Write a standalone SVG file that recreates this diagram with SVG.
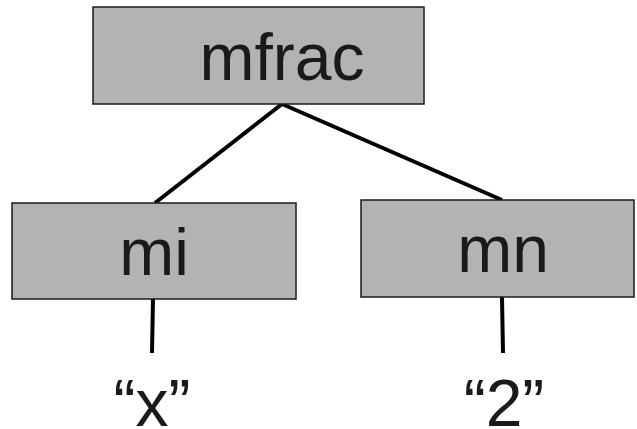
<svg xmlns="http://www.w3.org/2000/svg" width="637" height="429" viewBox="0 0 637 429">
  <style>
    .box { fill: #b3b3b3; stroke: #1a1a1a; stroke-width: 1.5; }
    .lbl { font-family: "Liberation Sans", Arial, sans-serif; font-size: 66px; fill: #1a1a1a; text-anchor: middle; }
    .edge { stroke: #000; stroke-width: 4; fill: none; }
  </style>
  <rect width="637" height="429" fill="#fff"/>
  <g id="connectors">
    <line class="edge" x1="282" y1="104" x2="155" y2="203"/>
    <line class="edge" x1="282" y1="104" x2="502" y2="200"/>
    <line class="edge" x1="153" y1="299" x2="152" y2="353"/>
    <line class="edge" x1="502" y1="297" x2="503" y2="353"/>
  </g>
  <g id="mfrac">
    <rect class="box" x="93" y="7" width="331" height="97"/>
    <text class="lbl" x="282" y="80">mfrac</text>
  </g>
  <g id="mi">
    <rect class="box" x="12" y="203" width="284" height="96"/>
    <text class="lbl" x="154" y="275">mi</text>
  </g>
  <g id="mn">
    <rect class="box" x="361" y="200" width="273" height="97"/>
    <text class="lbl" x="503" y="272">mn</text>
  </g>
  <g id="x">
    <text class="lbl" x="152" y="426">“x”</text>
  </g>
  <g id="two">
    <text class="lbl" x="504" y="426">“2”</text>
  </g>
</svg>
